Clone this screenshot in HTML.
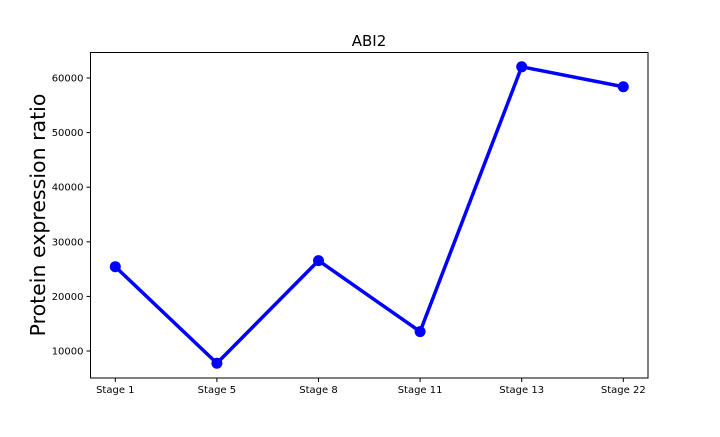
<!DOCTYPE html>
<html><head><meta charset="utf-8"><style>
body{margin:0;background:#fff;font-family:"Liberation Sans","DejaVu Sans",sans-serif;}
svg text{font-family:"DejaVu Sans","Liberation Sans",sans-serif;}
</style></head><body>
<svg id="chart" width="720" height="432">
<rect x="0" y="0" width="720" height="432" fill="#fff"/>
<text x="369" y="46" font-size="15" text-anchor="middle">ABI2</text>
<text transform="translate(45,215) rotate(-90)" font-size="20.5" text-anchor="middle">Protein expression ratio</text>
<g id="axes"></g>
<g id="marks"></g>
<rect x="90.5" y="52.5" width="557.5" height="325.5" fill="none" stroke="#000" stroke-width="1"/>
</svg>
<script>
const categories=["Stage 1","Stage 5","Stage 8","Stage 11","Stage 13","Stage 22"];
const values=[25440,7750,26560,13550,62050,58400];
const yTicks=[10000,20000,30000,40000,50000,60000];
const ns="http://www.w3.org/2000/svg";
const L=90.5,R=648,T=52.5,B=378;
function x(i){return 115.3+i*101.6;}
function y(v){return 351-(v-10000)*0.00546;}
const axes=document.getElementById('axes'),marks=document.getElementById('marks');
function mk(tag,attrs,parent){const e=document.createElementNS(ns,tag);for(const k in attrs)e.setAttribute(k,attrs[k]);parent.appendChild(e);return e;}
yTicks.forEach(t=>{
  const l=mk('line',{x1:L-4,x2:L,y1:y(t),y2:y(t),stroke:'#000'},axes);
  
  
  const tx=mk('text',{x:L-7,y:y(t)+3.5,'font-size':10,'text-anchor':'end'},axes);
  tx.textContent=t;
  
  
});
categories.forEach((c,i)=>{
  const l=mk('line',{x1:x(i),x2:x(i),y1:B,y2:B+4,stroke:'#000'},axes);
  
  
  const tx=mk('text',{x:x(i),y:B+15,'font-size':10,'text-anchor':'middle'},axes);
  tx.textContent=c;
  
  
});
const pts=values.map((v,i)=>x(i)+','+y(v)).join(' ');
const pl=mk('polyline',{points:pts,fill:'none',stroke:'#0000ff','stroke-width':3.5,'stroke-linejoin':'round'},marks);


values.forEach((v,i)=>{
  const c=mk('circle',{cx:x(i),cy:y(v),r:5.5,fill:'#0000ff'},marks);
  
  
});
</script>
</body></html>
